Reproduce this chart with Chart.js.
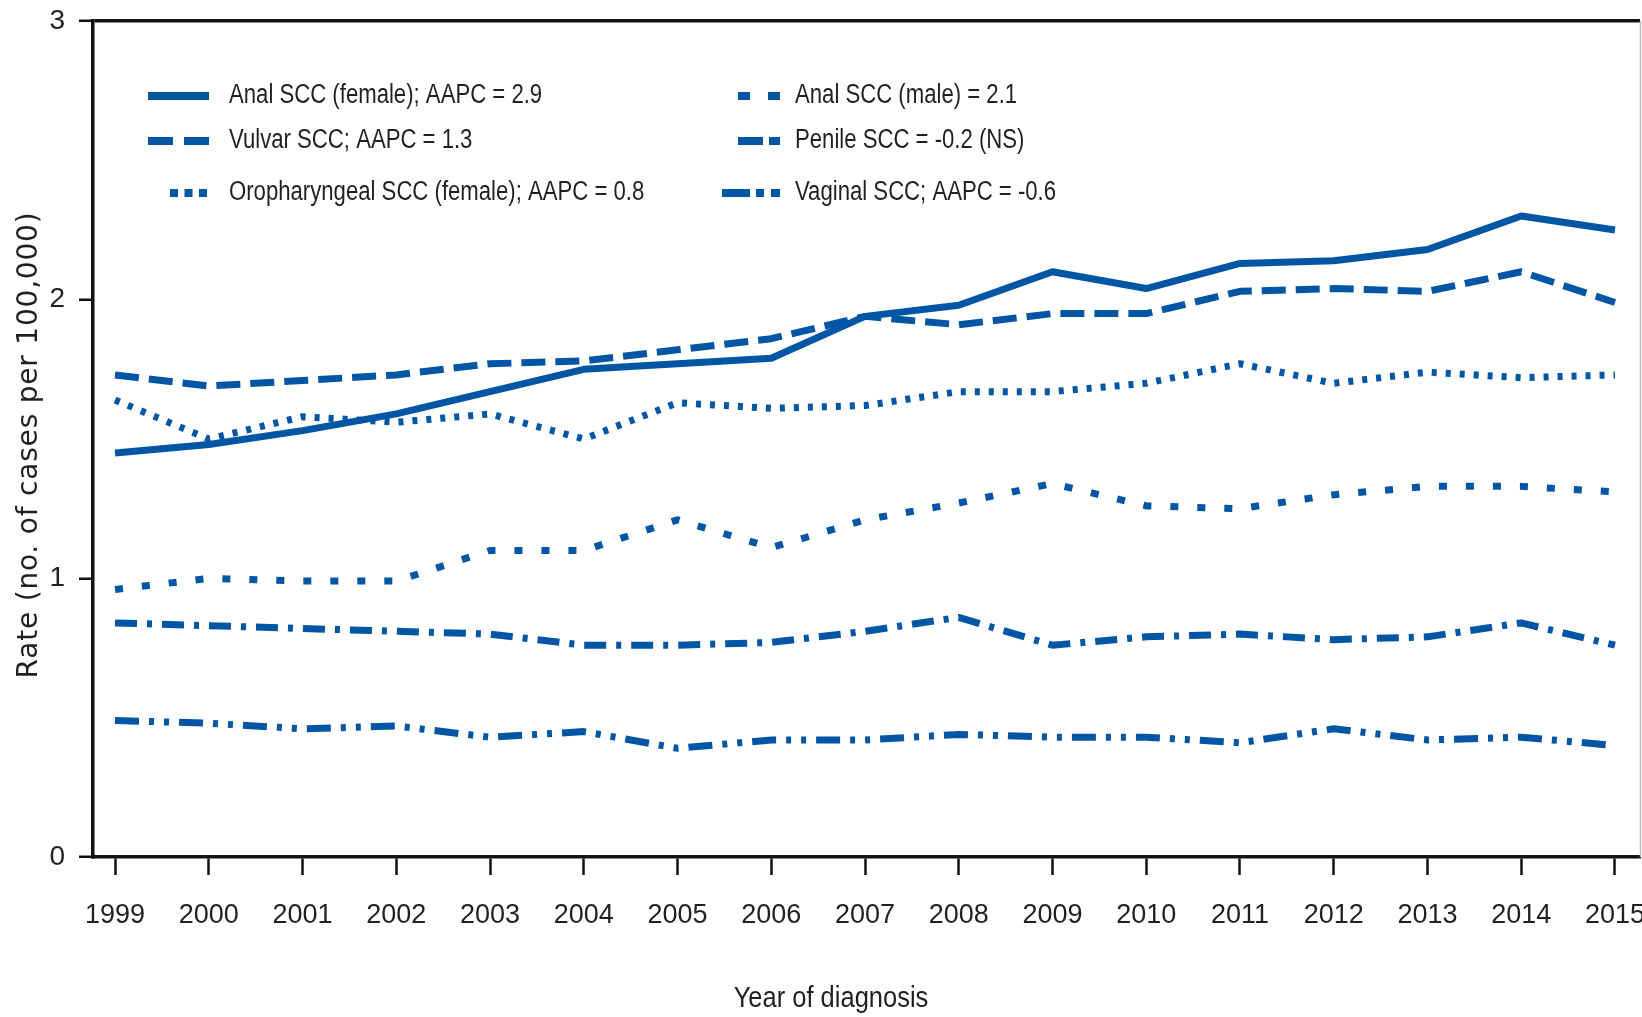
<!DOCTYPE html>
<html>
<head>
<meta charset="utf-8">
<script src="https://cdn.jsdelivr.net/npm/chart.js@4.4.1/dist/chart.umd.min.js"></script>
<style>
  html, body { margin: 0; padding: 0; background: #fff; }
  #wrap { width: 1642px; height: 1017px; position: relative; }
</style>
</head>
<body>
<div id="wrap"><canvas id="rates"></canvas></div>
<script>
const years = [1999, 2000, 2001, 2002, 2003, 2004, 2005, 2006, 2007, 2008, 2009, 2010, 2011, 2012, 2013, 2014, 2015]
const analFemale = [1.45, 1.48, 1.53, 1.59, 1.67, 1.75, 1.77, 1.79, 1.94, 1.98, 2.10, 2.04, 2.13, 2.14, 2.18, 2.30, 2.25]
const vulvar = [1.73, 1.69, 1.71, 1.73, 1.77, 1.78, 1.82, 1.86, 1.94, 1.91, 1.95, 1.95, 2.03, 2.04, 2.03, 2.10, 1.99]
const oroFemale = [1.64, 1.50, 1.58, 1.56, 1.59, 1.50, 1.63, 1.61, 1.62, 1.67, 1.67, 1.70, 1.77, 1.70, 1.74, 1.72, 1.73]
const analMale = [0.96, 1.00, 0.99, 0.99, 1.10, 1.10, 1.21, 1.11, 1.21, 1.27, 1.34, 1.26, 1.25, 1.30, 1.33, 1.33, 1.31]
const penile = [0.84, 0.83, 0.82, 0.81, 0.80, 0.76, 0.76, 0.77, 0.81, 0.86, 0.76, 0.79, 0.80, 0.78, 0.79, 0.84, 0.76]
const vaginal = [0.49, 0.48, 0.46, 0.47, 0.43, 0.45, 0.39, 0.42, 0.42, 0.44, 0.43, 0.43, 0.41, 0.46, 0.42, 0.43, 0.40]
const yTicks = [0, 1, 2, 3]
const seriesLabels = [
  'Anal SCC (female); AAPC = 2.9',
  'Vulvar SCC; AAPC = 1.3',
  'Oropharyngeal SCC (female); AAPC = 0.8',
  'Anal SCC (male) = 2.1',
  'Penile SCC = -0.2 (NS)',
  'Vaginal SCC; AAPC = -0.6',
]
const xTitle = 'Year of diagnosis'
const yTitle = 'Rate (no. of cases per 100,000)'

const seriesValues = [analFemale, vulvar, oroFemale, analMale, penile, vaginal]

const blue = '#0055a5'
const ink = '#231f20'
const sans = "'Liberation Sans', Arial, sans-serif"

// dash pattern on the plot, and on the little key sample
const lineStyles = [
  { dash: [], key: [] },
  { dash: [24, 10], key: [25, 11] },
  { dash: [5, 9], key: [8, 6.5] },
  { dash: [8, 19], key: [12, 18] },
  { dash: [22, 10, 5, 10], key: [25, 6, 11, 60] },
  { dash: [24, 10, 5, 10, 5, 10], key: [28, 6, 8, 7, 9, 60] },
]

// where each key entry sits (two columns, three rows)
const keySlots = [
  { x0: 148, x1: 209, tx: 229, y: 96 },
  { x0: 148, x1: 209, tx: 229, y: 141 },
  { x0: 170, x1: 209, tx: 229, y: 193 },
  { x0: 738, x1: 780, tx: 795, y: 96 },
  { x0: 738, x1: 780, tx: 795, y: 141 },
  { x0: 722, x1: 780, tx: 795, y: 193 },
]

// narrow text: regular sans squeezed sideways
const narrowText = (ctx, text, x, y, size, squeeze, align) => {
  ctx.save()
  ctx.translate(x, y)
  ctx.scale(squeeze, 1)
  ctx.font = `${size}px ${sans}`
  ctx.textAlign = align
  ctx.textBaseline = 'middle'
  ctx.fillStyle = ink
  ctx.fillText(text, 0, 0)
  ctx.restore()
}

const decor = {
  id: 'decor',
  afterDraw(chart) {
    const { ctx, chartArea } = chart
    ctx.save()

    // faint frame edge on the right
    ctx.strokeStyle = '#c4c4c4'
    ctx.lineWidth = 1.5
    ctx.beginPath()
    ctx.moveTo(chart.width - 1.5, chartArea.top)
    ctx.lineTo(chart.width - 1.5, chartArea.bottom)
    ctx.stroke()

    // key
    chart.data.datasets.forEach((ds, i) => {
      const s = keySlots[i]
      ctx.setLineDash(lineStyles[i].key)
      ctx.lineWidth = 8
      ctx.lineCap = 'butt'
      ctx.strokeStyle = blue
      ctx.beginPath()
      ctx.moveTo(s.x0, s.y)
      ctx.lineTo(s.x1, s.y)
      ctx.stroke()
      ctx.setLineDash([])
      narrowText(ctx, ds.label, s.tx, s.y, 27, 0.82, 'left')
    })

    // axis titles
    narrowText(ctx, xTitle, 831, 999, 30, 0.85, 'center')

    ctx.translate(37, 445)
    ctx.rotate(-Math.PI / 2)
    ctx.fillStyle = ink
    ctx.font = "28px 'DejaVu Sans', sans-serif"
    ctx.letterSpacing = '0.8px'
    ctx.textAlign = 'center'
    ctx.textBaseline = 'alphabetic'
    ctx.fillText(yTitle, 0, 0)
    ctx.restore()
  },
}

new Chart(document.getElementById('rates'), {
  type: 'line',
  data: {
    datasets: seriesLabels.map((label, i) => ({
      label: label,
      data: years.map((yr, j) => ({ x: yr, y: seriesValues[i][j] })),
      borderColor: blue,
      borderWidth: 7,
      borderDash: lineStyles[i].dash,
      borderCapStyle: 'butt',
      borderJoinStyle: 'round',
      pointRadius: 0,
      tension: 0,
      fill: false,
    })),
  },
  options: {
    responsive: true,
    maintainAspectRatio: false,
    animation: false,
    layout: { padding: { top: 21, right: 2, left: 0, bottom: 0 } },
    plugins: {
      legend: { display: false },
      tooltip: { enabled: false },
    },
    scales: {
      x: {
        type: 'linear',
        min: 1998.765,
        max: 2015.267,
        afterBuildTicks: (axis) => {
          axis.ticks = years.map((v) => ({ value: v }))
        },
        afterFit: (axis) => {
          axis.height = 160
          axis.paddingLeft = 0
          axis.paddingRight = 0
        },
        ticks: {
          color: ink,
          font: { family: sans, size: 27 },
          padding: 24,
          maxRotation: 0,
          autoSkip: false,
          callback: (v) => String(v),
        },
        grid: {
          drawOnChartArea: false,
          tickLength: 18,
          tickColor: '#111',
          tickWidth: 2.5,
        },
        border: { color: '#111', width: 3.5 },
      },
      y: {
        min: 0,
        max: 3,
        afterBuildTicks: (axis) => {
          axis.ticks = yTicks.map((v) => ({ value: v }))
        },
        afterFit: (axis) => {
          axis.width = 93
          axis.paddingTop = 0
          axis.paddingBottom = 0
        },
        ticks: {
          color: ink,
          font: { family: sans, size: 28 },
          padding: 14,
        },
        grid: {
          // only the top value gets a line across: the frame top
          color: (ctx) => (ctx.tick && ctx.tick.value === 3 ? '#111' : 'rgba(0,0,0,0)'),
          lineWidth: 3.5,
          tickLength: 14,
          tickColor: '#111',
          tickWidth: 2.5,
        },
        border: { color: '#111', width: 3.5 },
      },
    },
  },
  plugins: [decor],
})
</script>
</body>
</html>
